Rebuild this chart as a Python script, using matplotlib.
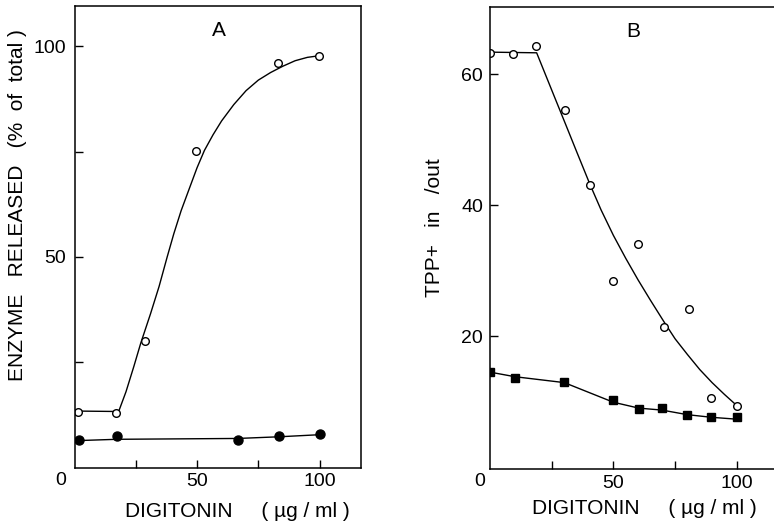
"""
Two panel figure: enzyme release (A) and TPP+ accumulation (B) versus digitonin.
"""

import matplotlib
matplotlib.use('Agg')
import matplotlib.pyplot as plt

plt.rcParams['font.family'] = ['Liberation Sans', 'DejaVu Sans']

# Panel A: enzyme released (% of total) vs digitonin (ug/ml)
a_open_x = [1.6, 16.8, 28.9, 49.6, 83.0, 99.8]
a_open_y = [13.3, 13.0, 30.0, 75.2, 96.0, 97.7]
a_filled_x = [1.8, 17.3, 66.6, 83.6, 100.3]
a_filled_y = [6.5, 7.6, 6.6, 7.4, 7.9]

# hand drawn fitted curves
a_open_fit_x = [1.6, 18.0, 21.0, 24.2, 27.0, 31.0, 34.5, 37.8, 40.5, 43.5, 47.0,
                50.0, 53.0, 56.5, 60.0, 65.0, 70.0, 75.0, 80.0, 85.0, 90.0, 95.0, 100.0]
a_open_fit_y = [13.4, 13.3, 18.0, 24.0, 29.5, 36.5, 43.0, 50.0, 55.5, 61.0, 66.5,
                71.2, 75.3, 79.0, 82.3, 86.2, 89.5, 92.0, 93.8, 95.3, 96.6, 97.4, 97.8]
a_filled_fit_x = [1.8, 17.3, 66.6, 83.6, 100.3]
a_filled_fit_y = [6.4, 6.7, 6.9, 7.3, 7.8]

# Panel B: TPP+ in/out vs digitonin (ug/ml)
b_open_x = [0.0, 9.5, 18.7, 30.5, 40.5, 49.7, 59.9, 70.4, 80.7, 89.6, 100.0]
b_open_y = [63.3, 63.1, 64.3, 54.6, 43.1, 28.5, 34.1, 21.4, 24.2, 10.5, 9.4]
b_square_x = [0.0, 10.1, 30.1, 50.0, 60.3, 69.7, 80.0, 89.7, 100.3]
b_square_y = [14.5, 13.6, 13.0, 10.2, 8.9, 9.0, 7.9, 7.6, 7.6]

b_open_fit_x = [0.0, 18.9, 26.3, 30.5, 35.1, 40.5, 45.0, 50.0, 55.0, 60.0,
                65.0, 70.5, 75.0, 80.0, 85.0, 90.0, 95.0, 100.0]
b_open_fit_y = [63.4, 63.3, 56.4, 52.5, 48.2, 43.2, 39.3, 35.4, 31.9, 28.6,
                25.5, 22.2, 19.6, 17.2, 14.9, 12.9, 11.1, 9.4]
b_square_fit_x = [0.0, 10.1, 30.1, 50.0, 60.3, 69.7, 80.0, 89.7, 100.3]
b_square_fit_y = [14.5, 13.8, 12.9, 9.9, 9.0, 8.7, 8.0, 7.6, 7.3]

FS = 14      # tick labels
LFS = 15     # axis labels and panel letters


def style_axes(ax, xlim, ylim, yticks, ylabels, ypad):
    ax.set_xlim(*xlim)
    ax.set_ylim(*ylim)
    ax.set_xticks([25, 50, 75, 100])
    ax.set_xticklabels(['', '50', '', '100'])
    ax.set_yticks(yticks)
    ax.set_yticklabels(ylabels)
    ax.tick_params(direction='in', length=6, width=1.0, labelsize=FS)
    ax.tick_params(axis='x', pad=4.0)
    ax.tick_params(axis='y', pad=ypad)
    for s in ax.spines.values():
        s.set_linewidth(1.1)


fig = plt.figure(figsize=(7.74, 5.26), dpi=100)

# ---- Panel A ----
ax1 = fig.add_axes([0.0963, 0.1112, 0.3695, 0.8774])
ax1.plot(a_open_fit_x, a_open_fit_y, '-', color='black', lw=1.0)
ax1.plot(a_filled_fit_x, a_filled_fit_y, '-', color='black', lw=1.0)
ax1.plot(a_open_x, a_open_y, 'o', ms=5.5, mfc='white', mec='black', mew=1.0)
ax1.plot(a_filled_x, a_filled_y, 'o', ms=6.5, mfc='black', mec='black')
style_axes(ax1, (0, 116.7), (0, 109.6), [25, 50, 75, 100], ['', '50', '', '100'], 6.0)
ax1.text(58.9, 103.8, 'A', fontsize=LFS, ha='center', va='center')
fig.text(0.078, 0.087, '0', fontsize=FS, ha='center', va='center')
fig.text(0.022, 0.61, 'ENZYME   RELEASED   (%  of  total )', fontsize=LFS,
         rotation=90, ha='center', va='center')
fig.text(0.307, 0.027, 'DIGITONIN     ( µg / ml )', fontsize=LFS,
         ha='center', va='center')

# ---- Panel B ----
ax2 = fig.add_axes([0.6331, 0.1084, 0.3669, 0.8783])
ax2.plot(b_open_fit_x, b_open_fit_y, '-', color='black', lw=1.0)
ax2.plot(b_square_fit_x, b_square_fit_y, '-', color='black', lw=1.0)
ax2.plot(b_open_x, b_open_y, 'o', ms=5.5, mfc='white', mec='black', mew=1.0)
ax2.plot(b_square_x, b_square_y, 's', ms=5.5, mfc='black', mec='black')
style_axes(ax2, (0, 115.1), (-0.3, 70.3), [20, 40, 60], ['20', '40', '60'], 5.0)
ax2.spines['right'].set_visible(False)
ax2.text(58.1, 66.5, 'B', fontsize=LFS, ha='center', va='center')
fig.text(0.620, 0.084, '0', fontsize=FS, ha='center', va='center')
fig.text(0.562, 0.568, 'TPP+   in   /out', fontsize=LFS,
         rotation=90, ha='center', va='center')
fig.text(0.832, 0.034, 'DIGITONIN     ( µg / ml )', fontsize=LFS,
         ha='center', va='center')

fig.savefig('out.png', dpi=100)
